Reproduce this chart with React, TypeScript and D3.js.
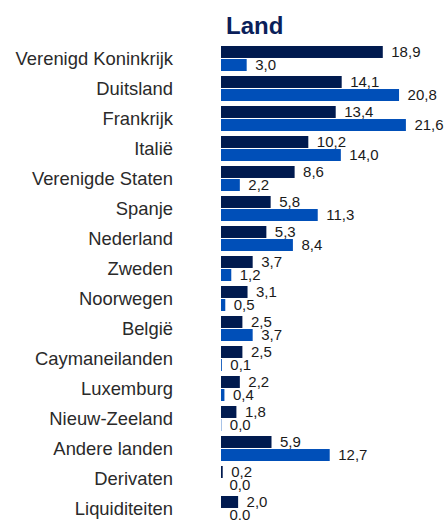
import React from "react";
import * as d3 from "d3";

const categories = [
  "Verenigd Koninkrijk",
  "Duitsland",
  "Frankrijk",
  "Italië",
  "Verenigde Staten",
  "Spanje",
  "Nederland",
  "Zweden",
  "Noorwegen",
  "België",
  "Caymaneilanden",
  "Luxemburg",
  "Nieuw-Zeeland",
  "Andere landen",
  "Derivaten",
  "Liquiditeiten",
];
const seriesDark = [18.9, 14.1, 13.4, 10.2, 8.6, 5.8, 5.3, 3.7, 3.1, 2.5, 2.5, 2.2, 1.8, 5.9, 0.2, 2.0];
const seriesLight = [3.0, 20.8, 21.6, 14.0, 2.2, 11.3, 8.4, 1.2, 0.5, 3.7, 0.1, 0.4, 0.04, 12.7, 0.0, 0.0];
const title = "Land";

const DARK = "#001a4f";
const LIGHT = "#004fb8";
const TEXT = "#1a1a1a";

export default function App() {
  const width = 447;
  const height = 520;
  const x = d3.scaleLinear().domain([0, 25]).range([221, 221 + 214]);
  const y = d3.scaleBand<string>().domain(categories).range([44, 44 + 30 * categories.length]);
  const inner = d3.scaleBand<string>().domain(["dark", "light"]).range([2, 27]).paddingInner(0.08);
  const fmt = (v: number) => v.toFixed(1).replace(".", ",");
  const font = "Arial, 'Liberation Sans', sans-serif";

  return (
    <svg
      width={width}
      height={height}
      style={{ position: "absolute", left: 0, top: 0, background: "#fff" }}
    >
      <text x={226} y={34} fontFamily={font} fontWeight="bold" fontSize={24} fill="#0b1f5a">
        {title}
      </text>
      {categories.map((c, i) => {
        const y0 = y(c)!;
        const rows = [
          { key: "dark", v: seriesDark[i], color: DARK },
          { key: "light", v: seriesLight[i], color: LIGHT },
        ];
        return (
          <g key={c}>
            <text
              x={173}
              y={y0 + y.bandwidth() / 2}
              dy="0.3em"
              textAnchor="end"
              fontFamily={font}
              fontSize={18.4}
              fill="#2a2a2a"
            >
              {c}
            </text>
            {rows.map((r) => {
              const by = y0 + inner(r.key)!;
              const w = x(r.v) - x(0);
              return (
                <g key={r.key}>
                  <rect x={x(0)} y={by} width={w} height={inner.bandwidth()} fill={r.color} />
                  <text
                    x={x(r.v) + 8.5}
                    y={by + inner.bandwidth() / 2}
                    dy="0.36em"
                    fontFamily={font}
                    fontSize={15}
                    fill={TEXT}
                  >
                    {fmt(r.v)}
                  </text>
                </g>
              );
            })}
          </g>
        );
      })}
    </svg>
  );
}
